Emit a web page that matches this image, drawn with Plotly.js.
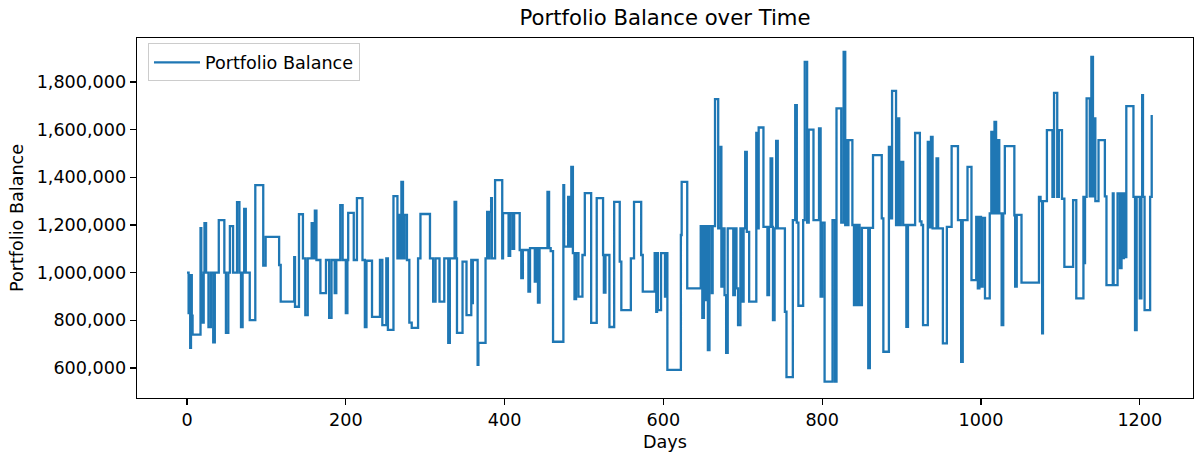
<!DOCTYPE html>
<html>
<head>
<meta charset="utf-8">
<script src="https://cdn.plot.ly/plotly-3.0.1.min.js"></script>
<style>
  html, body { margin: 0; padding: 0; background: #ffffff; }
  #chart { width: 1195px; height: 458px; }
</style>
</head>
<body>
<div id="chart"></div>
<script>
// Days on which the balance changes, and the balance held from that day on
const days = [
  0, 2, 3, 4, 5, 6, 7, 17, 18, 19, 21, 22, 24, 27, 30, 33, 35, 40, 47, 49,
  52, 54, 58, 63, 66, 68, 70, 72, 74, 79, 86, 96, 99, 116, 118, 135, 136, 141, 146, 149,
  152, 157, 159, 161, 163, 168, 175, 179, 182, 186, 188, 193, 196, 200, 202, 203, 210, 214, 221, 224,
  226, 233, 243, 246, 251, 253, 260, 265, 267, 269, 270, 272, 274, 277, 280, 283, 291, 294, 306, 310,
  313, 318, 324, 329, 331, 337, 339, 340, 347, 352, 358, 359, 360, 366, 367, 376, 378, 380, 381, 383,
  384, 388, 397, 398, 405, 407, 410, 412, 419, 421, 423, 430, 432, 438, 440, 442, 444, 454, 456, 458,
  461, 474, 475, 480, 482, 484, 486, 488, 490, 493, 498, 501, 509, 516, 524, 525, 527, 532, 538, 545,
  547, 559, 563, 572, 574, 589, 591, 592, 593, 597, 602, 603, 605, 622, 623, 630, 647, 649, 651, 653,
  654, 656, 658, 661, 662, 665, 669, 672, 673, 675, 677, 679, 681, 688, 690, 692, 694, 697, 699, 701,
  703, 705, 708, 717, 718, 720, 726, 731, 733, 735, 737, 738, 740, 742, 744, 753, 755, 763, 766, 768,
  770, 776, 778, 781, 783, 789, 796, 798, 800, 803, 813, 816, 818, 824, 827, 829, 830, 831, 833, 838,
  840, 842, 844, 846, 847, 850, 858, 860, 864, 875, 877, 884, 886, 888, 893, 895, 897, 899, 902, 906,
  908, 917, 923, 925, 927, 933, 935, 937, 939, 944, 946, 952, 957, 963, 971, 975, 977, 983, 988, 994,
  996, 998, 1000, 1002, 1005, 1011, 1013, 1015, 1017, 1019, 1021, 1023, 1026, 1028, 1030, 1042, 1043, 1045, 1051, 1073,
  1075, 1077, 1078, 1083, 1090, 1092, 1096, 1098, 1102, 1105, 1116, 1120, 1129, 1130, 1131, 1133, 1137, 1139, 1141, 1142,
  1144, 1148, 1156, 1158, 1166, 1167, 1172, 1175, 1177, 1178, 1180, 1181, 1183, 1192, 1194, 1196, 1200, 1202, 1203, 1204,
  1206, 1213, 1215
];

const balance = [
  1000000, 830000, 990000, 684000, 990000, 820000, 740000, 1187000, 990000, 790000, 1000000, 1208000, 1000000, 771000, 1000000, 708000, 1000000, 1220000, 1000000, 747000,
  1000000, 1195000, 1000000, 1296000, 1000000, 771000, 1000000, 1267000, 1000000, 801000, 1367000, 1030000, 1150000, 1032000, 878000, 1065000, 857000, 1245000, 1060000, 822000,
  1060000, 1208000, 1060000, 1260000, 1053000, 914000, 1053000, 810000, 1053000, 914000, 1053000, 1283000, 1053000, 830000, 1053000, 1251000, 1053000, 1313000, 1053000, 772000,
  1050000, 814000, 1053000, 780000, 1060000, 760000, 1321000, 1060000, 1242000, 1060000, 1381000, 1060000, 1242000, 1053000, 790000, 768000, 1060000, 1246000, 1060000, 878000,
  1060000, 878000, 1060000, 705000, 1060000, 1297000, 1060000, 747000, 1046000, 822000, 1053000, 872000, 1053000, 613000, 705000, 1060000, 1255000, 1060000, 1255000, 1313000,
  1060000, 1388000, 1060000, 1250000, 1070000, 1250000, 1100000, 1250000, 1095000, 977000, 1095000, 920000, 1103000, 962000, 1103000, 874000, 1103000, 1339000, 1103000, 1090000,
  710000, 1367000, 1109000, 1318000, 1109000, 1444000, 1082000, 889000, 1082000, 899000, 1074000, 1334000, 789000, 1313000, 1074000, 916000, 1074000, 772000, 1297000, 1046000,
  843000, 1060000, 1297000, 1074000, 920000, 1082000, 836000, 1082000, 843000, 1082000, 899000, 1082000, 592000, 1158000, 1381000, 934000, 1195000, 810000, 1195000, 885000,
  1195000, 675000, 1195000, 914000, 1195000, 1728000, 1186000, 1528000, 941000, 1186000, 906000, 663000, 1186000, 906000, 1186000, 934000, 780000, 1186000, 878000, 1186000,
  1507000, 1171000, 878000, 1586000, 1186000, 1609000, 1192000, 906000, 1192000, 1479000, 1192000, 801000, 1186000, 1553000, 1186000, 836000, 562000, 1220000, 1703000, 1210000,
  861000, 1220000, 1884000, 1210000, 1600000, 1220000, 1605000, 899000, 1210000, 543000, 1220000, 543000, 1689000, 1210000, 1926000, 1200000, 1556000, 1200000, 1556000, 1200000,
  864000, 1200000, 864000, 1200000, 864000, 1188000, 599000, 1188000, 1493000, 1228000, 668000, 1528000, 1228000, 1763000, 1200000, 1647000, 1200000, 1465000, 1200000, 773000,
  1200000, 1586000, 1215000, 1200000, 780000, 1549000, 1190000, 1570000, 1186000, 1479000, 1186000, 703000, 1192000, 1531000, 1220000, 626000, 1220000, 1444000, 969000, 1234000,
  934000, 1234000, 941000, 1230000, 892000, 1249000, 1591000, 1249000, 1633000, 1249000, 1556000, 1249000, 780000, 1249000, 1531000, 1240000, 941000, 1242000, 958000, 1318000,
  1300000, 745000, 1300000, 1598000, 1318000, 1754000, 1318000, 1598000, 1310000, 1024000, 1304000, 892000, 1318000, 1040000, 1318000, 1731000, 1320000, 1905000, 1320000, 1647000,
  1300000, 1556000, 1320000, 948000, 1332000, 948000, 1332000, 1019000, 1332000, 1061000, 1332000, 1065000, 1699000, 1318000, 759000, 1318000, 892000, 1318000, 1745000, 1318000,
  843000, 1318000, 1661000
];

const xTicks = [0, 200, 400, 600, 800, 1000, 1200];
const yTicks = [600000, 800000, 1000000, 1200000, 1400000, 1600000, 1800000];

const baseFont = { family: 'DejaVu Sans, Verdana, sans-serif', color: '#000000' };

const trace = {
  x: days,
  y: balance,
  type: 'scatter',
  mode: 'lines',
  name: 'Portfolio Balance',
  line: { color: '#1f77b4', width: 2.3, shape: 'hv' },
  hoverinfo: 'x+y'
};

const axisCommon = {
  showgrid: false,
  zeroline: false,
  showline: true,
  mirror: true,
  linecolor: '#000000',
  linewidth: 1.3,
  ticks: 'outside',
  ticklen: 6,
  tickwidth: 1.3,
  tickcolor: '#000000',
  tickfont: Object.assign({ size: 17.6 }, baseFont),
  automargin: false
};

const layout = {
  width: 1195,
  height: 458,
  margin: { l: 137, r: 2, t: 38, b: 60 },
  paper_bgcolor: '#ffffff',
  plot_bgcolor: '#ffffff',
  font: Object.assign({ size: 17.6 }, baseFont),
  title: {
    text: 'Portfolio Balance over Time',
    font: Object.assign({ size: 21.2 }, baseFont),
    xref: 'paper', x: 0.5, xanchor: 'center',
    yref: 'container', y: 0.961, yanchor: 'middle'
  },
  xaxis: Object.assign({}, axisCommon, {
    range: [-63, 1267],
    tickmode: 'array',
    tickvals: xTicks,
    ticktext: xTicks.map(String),
    title: { text: 'Days', font: Object.assign({ size: 17.6 }, baseFont), standoff: 6 }
  }),
  yaxis: Object.assign({}, axisCommon, {
    range: [474000, 1984600],
    tickmode: 'array',
    tickvals: yTicks,
    ticktext: yTicks.map(v => v.toLocaleString('en-US')),
    title: { text: 'Portfolio Balance', font: Object.assign({ size: 17.6 }, baseFont), standoff: 8 }
  }),
  showlegend: true,
  legend: {
    x: 0.0104, xanchor: 'left',
    y: 0.985, yanchor: 'top',
    bgcolor: 'rgba(255,255,255,0.8)',
    bordercolor: '#cccccc',
    borderwidth: 1,
    itemwidth: 46,
    font: Object.assign({ size: 17.6 }, baseFont)
  }
};

Plotly.newPlot('chart', [trace], layout, { displayModeBar: false, staticPlot: true });
</script>
</body>
</html>
